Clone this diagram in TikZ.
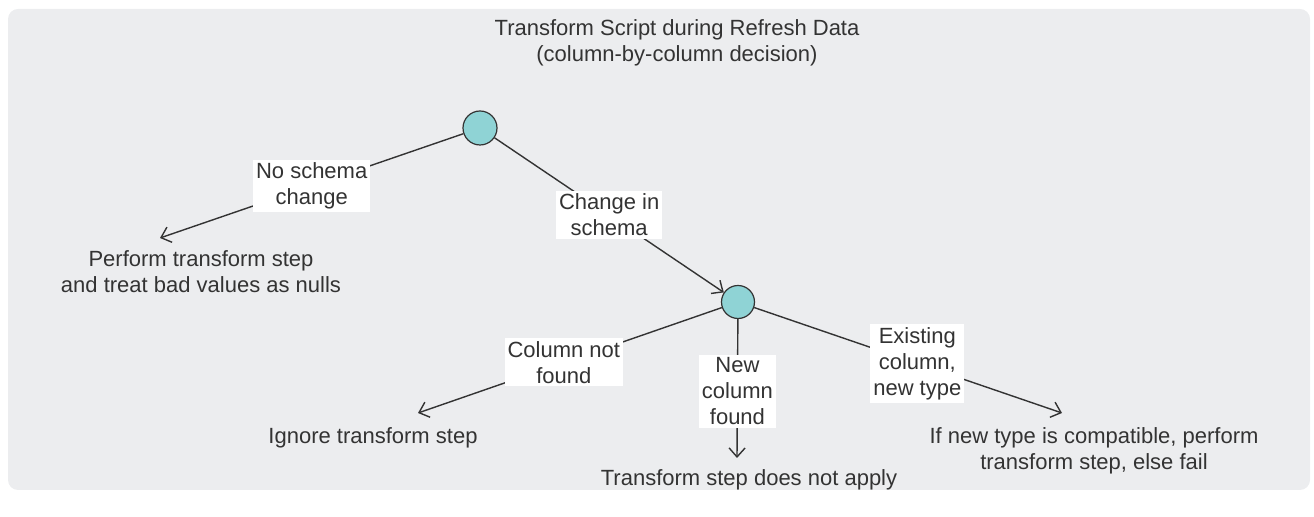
\documentclass[tikz,border=0pt]{standalone}
\usepackage{fontspec}
\setmainfont{Liberation Sans}
\usetikzlibrary{arrows.meta}
\usetikzlibrary{positioning}
\definecolor{bggray}{RGB}{236,237,239}
\definecolor{decfill}{RGB}{143,211,213}
\definecolor{ink}{RGB}{51,51,51}
\tikzset{dec/.style = {circle, draw = ink, fill = decfill, line width = 0.6pt, minimum size = 17pt, inner sep = 0}}
\tikzset{lbl/.style = {fill = white, align = center, inner sep = 1.5pt, text = ink}}
\tikzset{res/.style = {align = center, inner sep = 0, text = ink}}
\tikzset{arr/.style = {-{Straight Barb[length = 4.5pt, width = 8pt]}, draw = ink, line width = 0.7pt}}

\begin{document}
\begin{tikzpicture}[x = 0.5pt, y = -0.5pt, font = \fontsize{11}{13}\selectfont]
    \useasboundingbox (0, 0) rectangle (1314, 517);
    \fill [bggray, rounded corners = 5pt] (8, 9) rectangle (1310, 490);
    \node [res] (title) at (677, 43) {Transform Script during Refresh Data\\ (column-by-column decision)};
    % decision points
    \node [dec] (root) at (480, 128) {};
    \node [dec, minimum size = 16.5pt] (cols) at (738, 302) {};
    % arrow ends
    \coordinate (e1) at (160, 238);
    \coordinate (e2) at (418, 413);
    \coordinate (e3) at (737, 458);
    \coordinate (e4) at (1062, 413);
    % outcomes
    \node [res] (noch) at (201, 272) {Perform transform step\\ and treat bad values as nulls};
    \node [res] (ignore) at (373, 438) {Ignore transform step};
    \node [res] (noapp) at (749, 480) {Transform step does not apply};
    \node [res] (compat) at (1094, 451) {If new type is compatible, perform\\ transform step, else fail};
    % branches
    \draw [arr] (root) -- node [lbl, pos = 0.5] {No schema\\ change} (e1);
    \draw [arr] (root) -- node [lbl, pos = 0.5] {Change in\\ schema} (cols);
    \draw [arr] (cols) -- node [lbl, pos = 0.52] {Column not\\ found} (e2);
    \draw [arr] (cols) -- node [lbl, pos = 0.52] {New\\ column\\ found} (e3);
    \draw [arr] (cols) -- node [lbl, pos = 0.53] {Existing\\ column,\\ new type} (e4);
  \end{tikzpicture}
\end{document}
